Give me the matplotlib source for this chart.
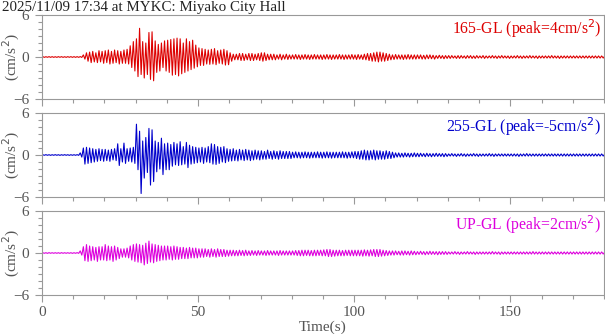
import numpy as np
import matplotlib
matplotlib.use('Agg')
import matplotlib.pyplot as plt
from matplotlib.ticker import MultipleLocator

## Titulo y etiquetas
title = '2025/11/09 17:34 at MYKC: Miyako City Hall'
labels = ['165-GL (peak=4cm/s$^2$)', '255-GL (peak=-5cm/s$^2$)', 'UP-GL (peak=2cm/s$^2$)']
colors = ['#dd0000', '#0000cc', '#dd00dd']

## Picos positivos / negativos por segundo (t = 0..180 s)
sec = list(range(181))

ns_up = [0.05, 0.04, 0.05, 0.05, 0.04, 0.05, 0.05, 0.04, 0.05, 0.05,
         0.05, 0.05, 0.06, 0.3, 0.6, 0.7, 0.8, 0.6, 0.9, 0.8,
         0.9, 1.0, 0.8, 1.0, 0.9, 0.8, 1.0, 1.1, 1.6, 2.2,
         2.6, 4.1, 2.2, 2.0, 3.5, 3.6, 2.3, 1.8, 2.0, 2.3,
         2.4, 2.5, 2.6, 2.7, 2.6, 2.0, 2.6, 2.2, 2.4, 1.7,
         1.3, 1.2, 1.1, 1.0, 1.1, 1.2, 0.9, 1.0, 1.1, 0.9,
         0.6, 0.4, 0.4, 0.5, 0.5, 0.4, 0.5, 0.5, 0.4, 0.5,
         0.6, 0.6, 0.4, 0.4, 0.4, 0.3, 0.4, 0.3, 0.4, 0.3,
         0.3, 0.35, 0.3, 0.3, 0.35, 0.3, 0.3, 0.35, 0.3, 0.3,
         0.3, 0.35, 0.3, 0.3, 0.3, 0.35, 0.3, 0.3, 0.3, 0.35,
         0.3, 0.35, 0.3, 0.4, 0.5, 0.5, 0.6, 0.7, 0.7, 0.6,
         0.5, 0.4, 0.3, 0.35, 0.3, 0.3, 0.3, 0.35, 0.3, 0.3,
         0.3, 0.3, 0.25, 0.3, 0.3, 0.25, 0.2, 0.25, 0.2, 0.2,
         0.2, 0.2, 0.15, 0.2, 0.2, 0.15, 0.2, 0.2, 0.15, 0.2,
         0.15, 0.2, 0.15, 0.15, 0.2, 0.15, 0.15, 0.2, 0.15, 0.15,
         0.15, 0.15, 0.2, 0.15, 0.15, 0.15, 0.2, 0.15, 0.15, 0.15,
         0.15, 0.15, 0.15, 0.2, 0.15, 0.15, 0.15, 0.15, 0.15, 0.15,
         0.15, 0.15, 0.15, 0.15, 0.15, 0.15, 0.15, 0.15, 0.15, 0.15, 0.15]
ns_lo = [-0.05, -0.04, -0.05, -0.05, -0.05, -0.04, -0.05, -0.05, -0.04, -0.05,
         -0.05, -0.05, -0.06, -0.3, -0.6, -0.8, -0.7, -0.8, -0.7, -0.9,
         -0.8, -1.0, -0.9, -0.8, -1.0, -0.9, -0.9, -1.0, -1.5, -2.0,
         -2.8, -2.5, -3.0, -2.5, -3.2, -3.4, -2.2, -2.0, -1.5, -2.0,
         -2.2, -2.6, -2.5, -2.7, -2.4, -2.2, -2.0, -1.8, -1.6, -1.4,
         -1.2, -1.2, -1.0, -1.05, -1.0, -1.1, -0.9, -1.0, -1.15, -1.1,
         -0.6, -0.4, -0.4, -0.5, -0.5, -0.4, -0.5, -0.5, -0.4, -0.5,
         -0.6, -0.5, -0.4, -0.4, -0.4, -0.3, -0.4, -0.3, -0.35, -0.3,
         -0.3, -0.3, -0.35, -0.3, -0.3, -0.35, -0.3, -0.3, -0.3, -0.35,
         -0.3, -0.3, -0.35, -0.3, -0.3, -0.3, -0.35, -0.3, -0.3, -0.3,
         -0.35, -0.3, -0.35, -0.4, -0.5, -0.6, -0.6, -0.7, -0.6, -0.6,
         -0.5, -0.4, -0.35, -0.3, -0.3, -0.35, -0.3, -0.3, -0.3, -0.3,
         -0.25, -0.3, -0.3, -0.25, -0.25, -0.3, -0.2, -0.2, -0.25, -0.2,
         -0.2, -0.15, -0.2, -0.2, -0.15, -0.2, -0.15, -0.2, -0.2, -0.15,
         -0.15, -0.2, -0.15, -0.15, -0.15, -0.2, -0.15, -0.15, -0.15, -0.2,
         -0.15, -0.15, -0.15, -0.2, -0.15, -0.15, -0.15, -0.15, -0.2, -0.15,
         -0.15, -0.15, -0.15, -0.15, -0.15, -0.2, -0.15, -0.15, -0.15, -0.15,
         -0.15, -0.15, -0.15, -0.15, -0.15, -0.15, -0.15, -0.15, -0.15, -0.15, -0.15]

ew_up = [0.04, 0.05, 0.04, 0.04, 0.05, 0.04, 0.04, 0.05, 0.04, 0.04,
         0.04, 0.05, 0.3, 1.0, 1.1, 1.0, 0.9, 0.8, 0.9, 0.8,
         0.8, 0.7, 0.8, 0.9, 1.6, 0.9, 1.7, 0.9, 1.0, 1.1,
         4.4, 3.4, 2.0, 2.5, 3.8, 3.6, 2.0, 1.8, 2.4, 1.6,
         1.7, 1.5, 1.8, 1.6, 1.9, 1.2, 1.8, 1.4, 1.2, 1.1,
         1.0, 1.1, 1.0, 1.2, 1.6, 1.5, 1.2, 1.1, 1.2, 0.9,
         0.8, 0.9, 0.7, 0.8, 0.7, 0.8, 0.7, 0.6, 0.7, 0.6,
         0.6, 0.5, 0.7, 0.5, 0.6, 0.5, 0.6, 0.5, 0.5, 0.5,
         0.4, 0.45, 0.4, 0.4, 0.45, 0.4, 0.4, 0.4, 0.45, 0.4,
         0.4, 0.45, 0.4, 0.4, 0.4, 0.4, 0.45, 0.4, 0.4, 0.45,
         0.5, 0.5, 0.6, 0.7, 0.6, 0.6, 0.7, 0.6, 0.6, 0.5,
         0.6, 0.5, 0.4, 0.3, 0.3, 0.25, 0.3, 0.25, 0.25, 0.3,
         0.25, 0.25, 0.2, 0.25, 0.2, 0.2, 0.25, 0.2, 0.2, 0.2,
         0.15, 0.2, 0.15, 0.15, 0.2, 0.15, 0.15, 0.15, 0.2, 0.15,
         0.15, 0.15, 0.15, 0.2, 0.15, 0.15, 0.15, 0.15, 0.15, 0.15,
         0.15, 0.15, 0.15, 0.15, 0.15, 0.2, 0.15, 0.15, 0.15, 0.15,
         0.15, 0.15, 0.15, 0.15, 0.15, 0.15, 0.15, 0.15, 0.15, 0.15,
         0.15, 0.15, 0.15, 0.15, 0.15, 0.15, 0.15, 0.15, 0.15, 0.15, 0.15]
ew_lo = [-0.04, -0.04, -0.05, -0.04, -0.04, -0.05, -0.04, -0.04, -0.05, -0.04,
         -0.04, -0.05, -0.3, -1.3, -1.2, -1.1, -1.0, -0.9, -0.8, -0.9,
         -0.8, -0.9, -0.7, -0.8, -1.5, -1.0, -1.2, -0.9, -1.0, -1.2,
         -2.1, -5.5, -3.3, -2.5, -4.3, -3.8, -2.4, -2.0, -2.8, -2.1,
         -2.1, -1.6, -1.4, -1.5, -1.4, -1.3, -1.8, -1.3, -1.2, -1.1,
         -1.0, -1.2, -1.0, -1.1, -1.3, -1.35, -1.2, -1.0, -1.1, -0.9,
         -0.85, -0.8, -0.85, -0.7, -0.8, -0.7, -0.8, -0.7, -0.6, -0.7,
         -0.6, -0.6, -0.5, -0.6, -0.5, -0.6, -0.5, -0.5, -0.5, -0.5,
         -0.4, -0.4, -0.45, -0.4, -0.4, -0.45, -0.4, -0.4, -0.4, -0.45,
         -0.4, -0.4, -0.45, -0.4, -0.4, -0.4, -0.4, -0.45, -0.4, -0.4,
         -0.5, -0.6, -0.6, -0.7, -0.7, -0.6, -0.7, -0.6, -0.6, -0.6,
         -0.5, -0.5, -0.4, -0.3, -0.3, -0.3, -0.25, -0.3, -0.25, -0.25,
         -0.25, -0.2, -0.25, -0.2, -0.25, -0.2, -0.2, -0.2, -0.25, -0.2,
         -0.15, -0.15, -0.2, -0.15, -0.15, -0.2, -0.15, -0.15, -0.15, -0.2,
         -0.15, -0.15, -0.15, -0.15, -0.2, -0.15, -0.15, -0.15, -0.15, -0.15,
         -0.15, -0.15, -0.2, -0.15, -0.15, -0.15, -0.15, -0.15, -0.15, -0.15,
         -0.15, -0.15, -0.15, -0.15, -0.15, -0.15, -0.15, -0.15, -0.15, -0.15,
         -0.15, -0.15, -0.15, -0.15, -0.15, -0.15, -0.15, -0.15, -0.15, -0.15, -0.15]

ud_up = [0.04, 0.04, 0.05, 0.04, 0.04, 0.04, 0.05, 0.04, 0.04, 0.04,
         0.04, 0.05, 0.3, 0.9, 1.2, 1.0, 0.9, 0.8, 0.9, 0.9,
         1.2, 1.0, 0.9, 1.0, 0.8, 0.6, 0.6, 0.7, 1.0, 1.2,
         1.3, 1.2, 1.1, 1.4, 1.7, 1.3, 1.2, 1.1, 1.0, 1.0,
         1.0, 0.9, 1.0, 0.9, 0.8, 0.8, 0.7, 0.8, 0.7, 0.7,
         0.6, 0.6, 0.6, 0.5, 0.6, 0.5, 0.6, 0.5, 0.5, 0.4,
         0.4, 0.4, 0.35, 0.4, 0.35, 0.4, 0.3, 0.35, 0.3, 0.35,
         0.3, 0.3, 0.35, 0.3, 0.3, 0.3, 0.35, 0.3, 0.3, 0.3,
         0.3, 0.35, 0.35, 0.4, 0.4, 0.4, 0.35, 0.4, 0.4, 0.4,
         0.45, 0.5, 0.5, 0.4, 0.4, 0.4, 0.35, 0.4, 0.4, 0.4,
         0.4, 0.4, 0.4, 0.45, 0.4, 0.45, 0.5, 0.5, 0.5, 0.4,
         0.35, 0.3, 0.3, 0.3, 0.25, 0.3, 0.3, 0.25, 0.3, 0.25,
         0.2, 0.25, 0.2, 0.2, 0.25, 0.2, 0.2, 0.2, 0.2, 0.2,
         0.15, 0.15, 0.2, 0.15, 0.15, 0.15, 0.2, 0.15, 0.15, 0.15,
         0.15, 0.15, 0.15, 0.15, 0.2, 0.15, 0.15, 0.15, 0.15, 0.15,
         0.15, 0.15, 0.15, 0.15, 0.15, 0.15, 0.15, 0.2, 0.15, 0.15,
         0.15, 0.15, 0.15, 0.15, 0.15, 0.15, 0.15, 0.15, 0.15, 0.15,
         0.15, 0.15, 0.15, 0.15, 0.15, 0.15, 0.15, 0.15, 0.15, 0.15, 0.15]
ud_lo = [-0.04, -0.05, -0.04, -0.04, -0.04, -0.05, -0.04, -0.04, -0.04, -0.05,
         -0.04, -0.05, -0.3, -1.1, -1.2, -1.1, -1.0, -1.2, -1.0, -1.0,
         -1.1, -1.0, -1.2, -1.0, -0.8, -0.6, -0.6, -0.7, -1.0, -1.2,
         -1.3, -1.4, -1.7, -1.5, -1.3, -1.4, -1.2, -1.1, -1.0, -1.0,
         -0.9, -1.0, -0.9, -0.9, -0.8, -0.8, -0.8, -0.7, -0.7, -0.7,
         -0.6, -0.6, -0.5, -0.6, -0.5, -0.6, -0.5, -0.5, -0.5, -0.45,
         -0.4, -0.4, -0.4, -0.35, -0.4, -0.35, -0.35, -0.3, -0.35, -0.3,
         -0.3, -0.35, -0.3, -0.3, -0.3, -0.35, -0.3, -0.3, -0.3, -0.3,
         -0.3, -0.35, -0.4, -0.4, -0.35, -0.4, -0.4, -0.4, -0.35, -0.4,
         -0.4, -0.5, -0.5, -0.45, -0.4, -0.4, -0.4, -0.35, -0.4, -0.4,
         -0.4, -0.4, -0.45, -0.4, -0.45, -0.4, -0.5, -0.5, -0.45, -0.4,
         -0.35, -0.3, -0.3, -0.25, -0.3, -0.3, -0.25, -0.3, -0.25, -0.25,
         -0.2, -0.2, -0.25, -0.2, -0.2, -0.2, -0.25, -0.2, -0.2, -0.2,
         -0.15, -0.15, -0.15, -0.2, -0.15, -0.15, -0.15, -0.15, -0.2, -0.15,
         -0.15, -0.15, -0.15, -0.15, -0.15, -0.15, -0.2, -0.15, -0.15, -0.15,
         -0.15, -0.15, -0.15, -0.15, -0.15, -0.15, -0.15, -0.15, -0.15, -0.15,
         -0.15, -0.15, -0.15, -0.15, -0.15, -0.15, -0.15, -0.15, -0.15, -0.15,
         -0.15, -0.15, -0.15, -0.15, -0.15, -0.15, -0.15, -0.15, -0.15, -0.15, -0.15]

traces = [(ns_up, ns_lo), (ew_up, ew_lo), (ud_up, ud_lo)]

## Estilo general
plt.rcParams['font.family'] = ['Liberation Serif', 'DejaVu Serif']
grey_txt = '#555555'
grey_ax = '#999999'
W, H = 605, 334

fig = plt.figure(figsize=(W / 100, H / 100), dpi=100)
left = 42 / W ; width = 562 / W
tops = [15, 113, 211]
height = 84 / H

t = np.asarray(sec, dtype=float)
for k, ((up, lo), lab, col) in enumerate(zip(traces, labels, colors)):
    ax = fig.add_axes([left, 1 - (tops[k] + 84) / H, width, height])
    # intercalamos pico positivo y negativo dentro de cada segundo
    x = np.ravel(np.column_stack([t + 0.25, t + 0.75]))
    y = np.ravel(np.column_stack([up, lo]))
    ax.plot(x, y, c=col, lw=0.8)
    ax.set_xlim(0, 180) ; ax.set_ylim(-6, 6)
    ax.set_yticks([-6, 0, 6])
    ax.yaxis.set_minor_locator(MultipleLocator(1))
    ax.set_xticks([0, 50, 100, 150])
    ax.xaxis.set_minor_locator(MultipleLocator(10))
    ax.tick_params(which='both', direction='out', colors=grey_ax, labelcolor=grey_txt, labelsize=11, width=0.8)
    ax.tick_params(which='major', length=5)
    ax.tick_params(which='minor', length=3)
    ax.tick_params(axis='y', which='major', pad=4)
    ax.tick_params(axis='x', which='major', pad=3)
    for s in ax.spines.values():
        s.set_color(grey_ax) ; s.set_linewidth(0.8)
    if k < 2:
        ax.set_xticklabels([])
    # etiqueta del eje y centrada en el panel
    fig.text(11 / W, 1 - (tops[k] + 42) / H, '(cm/s$^2$)', rotation=90, ha='center', va='center',
             color=grey_txt, fontsize=11)
    ax.text(0.995, 0.97, lab, transform=ax.transAxes, ha='right', va='top', color=col, fontsize=11.3)

fig.text(2 / W, 1 - 11 / H, title, ha='left', va='baseline', fontsize=10.8, color='#222222')
fig.text(323 / W, 1 - 331 / H, 'Time(s)', ha='center', va='baseline', fontsize=11, color=grey_txt)

fig.savefig('out.png', dpi=100)
